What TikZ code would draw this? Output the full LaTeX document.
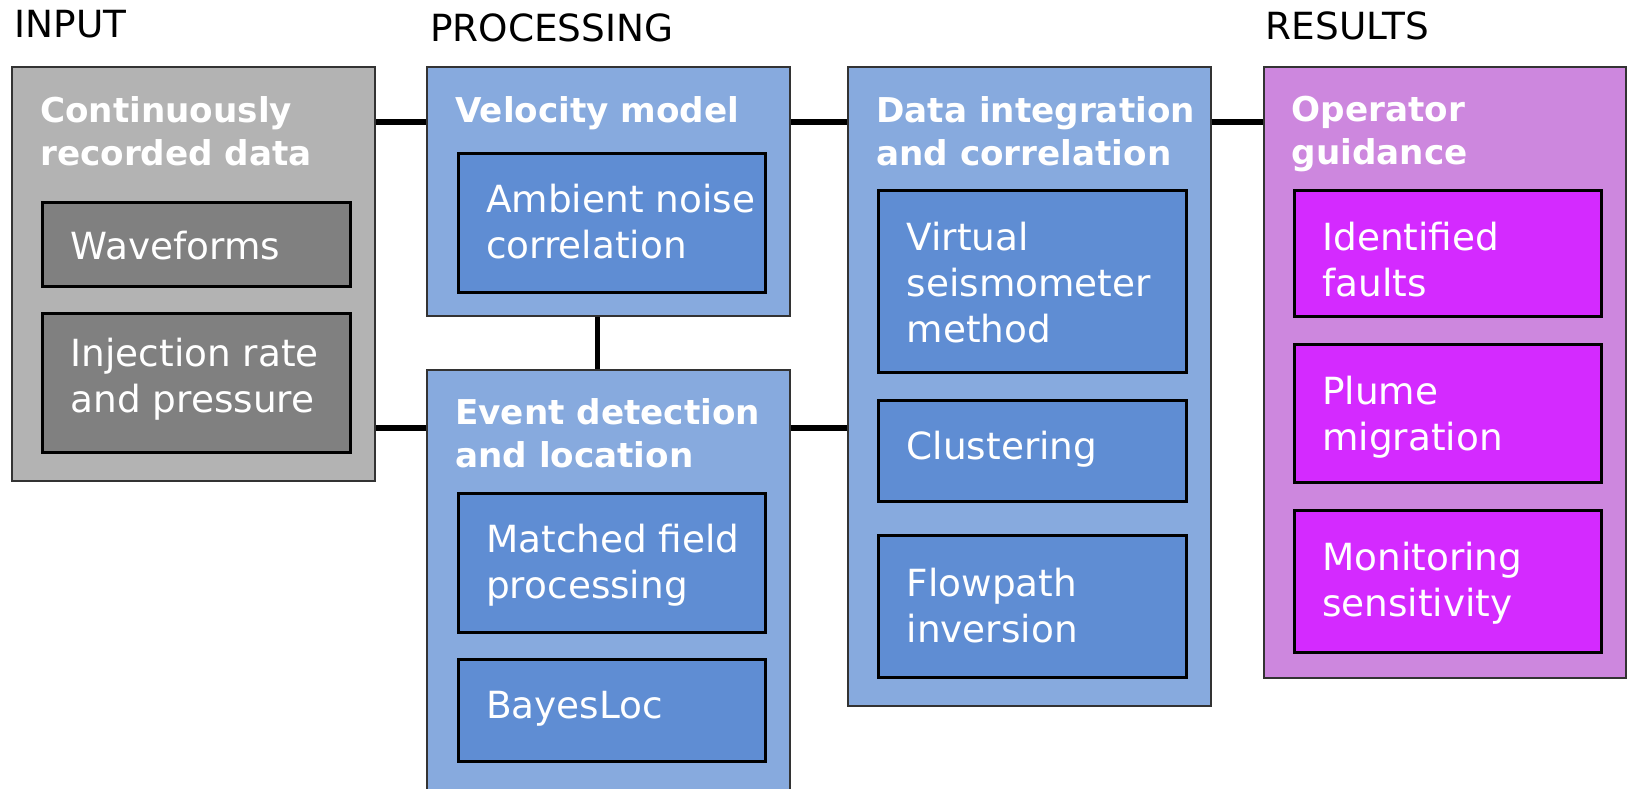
\documentclass[tikz,border=0pt]{standalone}
\usepackage{fontspec}
\setmainfont{DejaVu Sans}
\usepackage{tikz}
\usetikzlibrary{positioning,backgrounds}
\pgfdeclarelayer{background}
\pgfsetlayers{background,main}
\definecolor{inputbg}{HTML}{B3B3B3}
\definecolor{inputfg}{HTML}{808080}
\definecolor{procbg}{HTML}{87AADE}
\definecolor{procfg}{HTML}{5F8DD3}
\definecolor{resbg}{HTML}{CD87DE}
\definecolor{resfg}{HTML}{D42AFF}
\newcommand{\plainfont}[0]{\fontsize{37.4}{46}\selectfont}
\newcommand{\titlefont}[0]{\fontsize{34.2}{43.3}\selectfont\bfseries}

\begin{document}
\begin{tikzpicture}[x=1pt,y=-1pt]
\tikzstyle{group}=[rectangle,draw=black!80,line width=2pt,outer sep=0pt,minimum width=362.5pt,anchor=north west]
\tikzstyle{method}=[rectangle,draw=black,line width=3pt,outer sep=0pt,minimum width=307.5pt]
\tikzstyle{mtext}=[inner sep=0pt,anchor=north west,align=left,text=white,font=\plainfont]
\tikzstyle{title}=[inner sep=0pt,anchor=north west,align=left,text=white,font=\titlefont]
\tikzstyle{heading}=[inner sep=0pt,anchor=base west,font=\plainfont]
\tikzstyle{link}=[line width=5.5pt]

\useasboundingbox (0,0) rectangle (1627,788);

% columns
\node[group,fill=inputbg,minimum height=413.5pt] (input) at (12,67) {};
\node[group,fill=procbg,minimum height=249pt,below right=0pt and 52.5pt of input.north east] (velo) {};
\node[group,fill=procbg,minimum height=440pt,below=53.5pt of velo.south west,anchor=north west] (event) {};
\node[group,fill=procbg,minimum height=638.5pt,below right=0pt and 58.5pt of velo.north east] (integ) {};
\node[group,fill=resbg,minimum height=610.5pt,below right=0pt and 53pt of integ.north east] (guide) {};

\node[heading] (input-h) at ([xshift=2.5pt,yshift=30pt]input.north west) {INPUT};
\node[heading] (proc-h) at ([xshift=3pt,yshift=26pt]velo.north west) {PROCESSING};
\node[heading] (res-h) at ([xshift=2pt,yshift=28pt]guide.north west) {RESULTS};

\node[title,below right=29pt and 28pt of input.north west] (input-t) {Continuously\\recorded data};
\node[title,below right=29pt and 28pt of velo.north west] (velo-t) {Velocity model};
\node[title,below right=29pt and 28pt of event.north west] (event-t) {Event detection\\and location};
\node[title,below right=29pt and 28pt of integ.north west] (integ-t) {Data integration\\and correlation};
\node[title,below right=29pt and 28pt of guide.north west] (guide-t) {Operator\\guidance};

% methods
\node[method,fill=inputfg,minimum height=83.5pt,below right=135.5pt and 30.5pt of input.north west] (wave) {};
\node[mtext,below right=28.5pt and 28pt of wave.north west] (wave-l) {Waveforms};
\node[method,fill=inputfg,minimum height=139pt,below=27.5pt of wave] (inject) {};
\node[mtext,below right=24.5pt and 28pt of inject.north west] (inject-l) {Injection rate\\and pressure};

\node[method,fill=procfg,minimum height=138.5pt,below right=86.5pt and 31pt of velo.north west] (noise) {};
\node[mtext,below right=30.5pt and 28pt of noise.north west] (noise-l) {Ambient noise\\correlation};
\node[method,fill=procfg,minimum height=139pt,below right=123.5pt and 31pt of event.north west] (mfp) {};
\node[mtext,below right=31pt and 28pt of mfp.north west] (mfp-l) {Matched field\\processing};
\node[method,fill=procfg,minimum height=102pt,below=27.5pt of mfp] (bayes) {};
\node[mtext,below right=32pt and 28pt of bayes.north west] (bayes-l) {BayesLoc};

\node[method,fill=procfg,minimum height=182pt,below right=123.5pt and 30.5pt of integ.north west] (virt) {};
\node[mtext,below right=31pt and 28pt of virt.north west] (virt-l) {Virtual\\seismometer\\method};
\node[method,fill=procfg,minimum height=101.5pt,below=27.5pt of virt] (clust) {};
\node[mtext,below right=30.5pt and 28pt of clust.north west] (clust-l) {Clustering};
\node[method,fill=procfg,minimum height=142pt,below=34pt of clust] (flow) {};
\node[mtext,below right=32.5pt and 28pt of flow.north west] (flow-l) {Flowpath\\inversion};

\node[method,fill=resfg,minimum height=126.5pt,below right=123pt and 30.5pt of guide.north west] (faults) {};
\node[mtext,below right=31.5pt and 28pt of faults.north west] (faults-l) {Identified\\faults};
\node[method,fill=resfg,minimum height=138pt,below=28pt of faults] (plume) {};
\node[mtext,below right=31pt and 28pt of plume.north west] (plume-l) {Plume\\migration};
\node[method,fill=resfg,minimum height=142pt,below=28pt of plume] (sens) {};
\node[mtext,below right=31.5pt and 28pt of sens.north west] (sens-l) {Monitoring\\sensitivity};

% links
\coordinate (rowA) at (0,122);
\coordinate (rowB) at (0,428);
\coordinate (colA) at (597.7,0);
\begin{pgfonlayer}{background}
\draw[link] (input.east |- rowA) -- (velo.west |- rowA)
            (velo.east |- rowA) -- (integ.west |- rowA)
            (integ.east |- rowA) -- (guide.west |- rowA)
            (input.east |- rowB) -- (event.west |- rowB)
            (event.east |- rowB) -- (integ.west |- rowB)
            (velo.south -| colA) -- (event.north -| colA);
\end{pgfonlayer}

\end{tikzpicture}
\end{document}
